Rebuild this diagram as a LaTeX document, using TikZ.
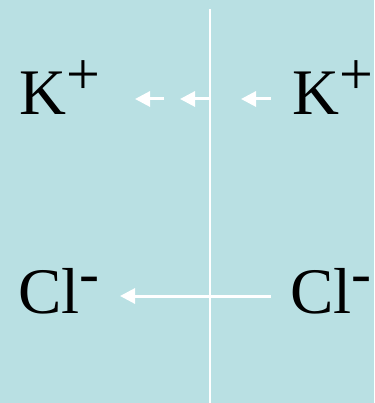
\documentclass[tikz,border=0pt]{standalone}
\usepackage{fontspec}
\setmainfont{Liberation Serif}
\usetikzlibrary{arrows.meta}
\definecolor{bathbg}{RGB}{185,224,227}
\newcommand{\ioncharge}[1]{\raisebox{20pt}{\fontsize{60}{60}\selectfont #1}}

\begin{document}
\begin{tikzpicture}[x=1pt,y=-1pt,
  ion/.style={anchor=base west,inner sep=0pt,font=\fontsize{65}{65}\selectfont},
  flux/.style={-{Triangle[length=15pt,width=15pt]},draw=white,line width=3pt}
]
\fill[bathbg] (0,0) rectangle (374,403);
\useasboundingbox (0,0) rectangle (374,403);
% membrane
\coordinate (memtop) at (210,9);
\coordinate (membot) at (210,403);
\draw[white,line width=2pt] (memtop) -- (membot);
% ions
\node[ion] (kin) at (19,115) {K\ioncharge{+}};
\node[ion] (kout) at (292,115) {K\ioncharge{+}};
\node[ion] (clin) at (18,313) {Cl\ioncharge{-}};
\node[ion] (clout) at (290,313) {Cl\ioncharge{-}};
% flux arrows
\coordinate (ka1) at (164,99); \coordinate (kb1) at (135,99);
\coordinate (ka2) at (209,99); \coordinate (kb2) at (180,99);
\coordinate (ka3) at (271,99); \coordinate (kb3) at (241,99);
\coordinate (cla) at (271,296); \coordinate (clb) at (120,296);
\foreach \a/\b in {ka1/kb1,ka2/kb2,ka3/kb3,cla/clb}
  \draw[flux] (\a) -- (\b);
\end{tikzpicture}
\end{document}
